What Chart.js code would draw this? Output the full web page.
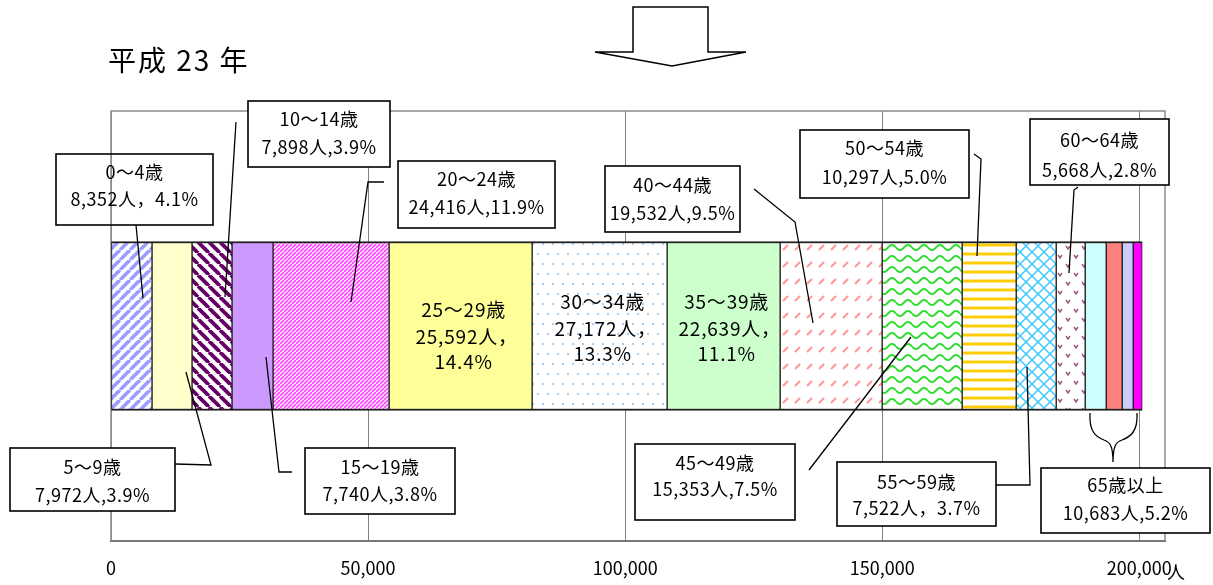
<!DOCTYPE html>
<html lang="ja">
<head>
  <meta charset="UTF-8">
  <title>平成23年 年齢別人口</title>
  <script src="https://cdn.jsdelivr.net/npm/chart.js"></script>
  <style>
    body {
      margin: 0;
      padding: 0;
      background: #fff;
    }
    #ageChart {
      display: block;
    }
  </style>
</head>
<body>
  <canvas id="ageChart" width="1213" height="585"></canvas>

  <script>
    // Segments of the single stacked bar (65+ is split in four thin parts)
    const segmentNames = ['0～4歳', '5～9歳', '10～14歳', '15～19歳', '20～24歳', '25～29歳', '30～34歳',
      '35～39歳', '40～44歳', '45～49歳', '50～54歳', '55～59歳', '60～64歳',
      '65～69歳', '70～74歳', '75～79歳', '80歳以上'];
    const segmentValues = [7980, 7780, 7780, 7980, 22570, 27820, 26260,
      21980, 19840, 15560, 10510, 7780, 5640,
      4090, 3110, 2140, 1750];

    // Label texts as printed on the chart
    const calloutTitles = ['0～4歳', '5～9歳', '10～14歳', '15～19歳', '20～24歳', '40～44歳',
      '45～49歳', '50～54歳', '55～59歳', '60～64歳', '65歳以上'];
    const calloutCounts = ['8,352人，4.1%', '7,972人,3.9%', '7,898人,3.9%', '7,740人,3.8%',
      '24,416人,11.9%', '19,532人,9.5%', '15,353人,7.5%', '10,297人,5.0%',
      '7,522人，3.7%', '5,668人,2.8%', '10,683人,5.2%'];
    const inBarIndex = [5, 6, 7];
    const inBarTitles = ['25～29歳', '30～34歳', '35～39歳'];
    const inBarCounts = ['25,592人，', '27,172人，', '22,639人，'];
    const inBarShares = ['14.4%', '13.3%', '11.1%'];

    const axisTicks = [0, 50000, 100000, 150000, 200000];
    const axisMax = 205000;
    const titleText = '平成 23 年';
    const unitText = '人';

    const FONT = '"Noto Sans CJK JP", "Noto Sans", sans-serif';

    // ---- fill patterns ----
    function makeTile(w, h, draw) {
      const c = document.createElement('canvas');
      c.width = w;
      c.height = h;
      const g = c.getContext('2d');
      g.fillStyle = '#fff';
      g.fillRect(0, 0, w, h);
      draw(g, w, h);
      return g.createPattern(c, 'repeat');
    }

    function diag(color, p, lw, dir) {
      return makeTile(p, p, g => {
        g.strokeStyle = color;
        g.lineWidth = lw;
        for (const o of [-p, 0, p]) {
          g.beginPath();
          if (dir > 0) { g.moveTo(o, p); g.lineTo(o + p, 0); }
          else { g.moveTo(o, 0); g.lineTo(o + p, p); }
          g.stroke();
        }
      });
    }

    const dots = makeTile(10, 20, g => {
      g.fillStyle = '#9fcfff';
      g.fillRect(2, 3, 2, 2);
      g.fillRect(7, 13, 2, 2);
    });
    const dashes = makeTile(12, 17, g => {
      g.strokeStyle = '#ff9999';
      g.lineWidth = 2.2;
      g.beginPath(); g.moveTo(3, 12); g.lineTo(8, 7); g.stroke();
    });
    const waves = makeTile(16, 11, g => {
      g.strokeStyle = '#2fdc2f';
      g.lineWidth = 2;
      g.beginPath();
      for (let i = 0; i <= 16; i++) {
        const yy = 5.5 + 2.6 * Math.sin(i / 16 * Math.PI * 2);
        i === 0 ? g.moveTo(i, yy) : g.lineTo(i, yy);
      }
      g.stroke();
    });
    const hlines = makeTile(4, 9, g => {
      g.fillStyle = '#ffe88a';
      g.fillRect(0, 0, 4, 4);
      g.fillStyle = '#ffcc00';
      g.fillRect(0, 1, 4, 2);
    });
    const cross = makeTile(12, 12, g => {
      g.strokeStyle = '#3cc8ff';
      g.lineWidth = 1.5;
      for (const o of [-12, 0, 12]) {
        g.beginPath(); g.moveTo(o, 12); g.lineTo(o + 12, 0); g.stroke();
        g.beginPath(); g.moveTo(o, 0); g.lineTo(o + 12, 12); g.stroke();
      }
    });
    const vmarks = makeTile(16, 18, g => {
      g.strokeStyle = '#a05080';
      g.lineWidth = 1.4;
      g.beginPath(); g.moveTo(2, 3); g.lineTo(4, 6); g.lineTo(6, 3); g.stroke();
      g.beginPath(); g.moveTo(10, 12); g.lineTo(12, 15); g.lineTo(14, 12); g.stroke();
    });

    const fills = [
      diag('#9c9cff', 10, 3.6, 1), '#ffffcc', diag('#660066', 11, 3.8, -1), '#cc99ff',
      diag('#ff44ff', 4, 1.7, 1), '#ffff99', dots, '#ccffcc', dashes, waves, hlines,
      cross, vmarks, '#ccffff', '#ff8080', '#ccccff', '#ff00ff'
    ];

    // ---- callout layout (boxes, text rows, leader lines) ----
    const calloutLayout = [
      { box: [56, 154, 213, 225], rows: [172, 199], lead: [[136, 225], [143, 298]], clear: true },
      { box: [10, 448, 175, 511], rows: [467, 495], lead: [[175, 464], [211, 465], [186, 372]] },
      { box: [248, 101, 390, 167], rows: [119, 147], lead: [[236, 122], [225, 297]] },
      { box: [305, 448, 455, 514], rows: [467, 494], lead: [[292, 472], [279, 472], [266, 357]] },
      { box: [398, 161, 555, 228], rows: [179, 207], lead: [[384, 182], [368, 182], [351, 302]] },
      { box: [605, 166, 740, 232], rows: [185, 213], lead: [[754, 189], [795, 222], [813, 323]] },
      { box: [635, 444, 795, 520], rows: [463, 489], lead: [[809, 470], [911, 337]] },
      { box: [800, 130, 969, 198], rows: [148, 177], lead: [[974, 154], [981, 159], [977, 256]] },
      { box: [837, 462, 996, 526], rows: [482, 508], lead: [[996, 485], [1030, 485], [1027, 367]] },
      { box: [1030, 119, 1169, 185], rows: [140, 170], lead: [[1078, 187], [1074, 190], [1069, 273]] },
      { box: [1041, 468, 1210, 533], rows: [485, 513], lead: [] }
    ];

    function poly(ctx, pts) {
      if (pts.length < 2) return;
      ctx.beginPath();
      ctx.moveTo(pts[0][0], pts[0][1]);
      pts.slice(1).forEach(p => ctx.lineTo(p[0], p[1]));
      ctx.stroke();
    }

    const frame = {
      id: 'frame',
      beforeDatasetsDraw(chart) {
        const { ctx, chartArea: a } = chart;
        ctx.save();
        ctx.strokeStyle = '#8c8c8c';
        ctx.lineWidth = 1.5;
        ctx.strokeRect(a.left, a.top, a.right - a.left, a.bottom - a.top);
        ctx.restore();
      }
    };

    const annotate = {
      id: 'annotate',
      afterDraw(chart) {
        const ctx = chart.ctx;
        const xs = chart.scales.x;
        ctx.save();
        ctx.fillStyle = '#000';
        ctx.textAlign = 'left';
        ctx.textBaseline = 'middle';

        // title
        ctx.font = '28px ' + FONT;
        ctx.letterSpacing = '2px';
        ctx.fillText(titleText, 108, 60);

        // down arrow
        ctx.strokeStyle = '#000';
        ctx.lineWidth = 1.5;
        ctx.fillStyle = '#fff';
        ctx.beginPath();
        [[633, 7], [708, 7], [708, 52], [746, 52], [672, 66], [595, 52], [633, 52]].forEach((p, i) => {
          i ? ctx.lineTo(p[0], p[1]) : ctx.moveTo(p[0], p[1]);
        });
        ctx.closePath();
        ctx.fill();
        ctx.stroke();

        // callouts
        calloutLayout.forEach((c, i) => {
          const [l, t, r, b] = c.box;
          ctx.lineWidth = 1.3;
          ctx.strokeStyle = '#000';
          poly(ctx, c.lead);
          if (!c.clear) {
            ctx.fillStyle = '#fff';
            ctx.fillRect(l, t, r - l, b - t);
          }
          ctx.lineWidth = 1.6;
          ctx.strokeRect(l, t, r - l, b - t);
          ctx.fillStyle = '#000';
          ctx.textAlign = 'center';
          ctx.font = '18px ' + FONT;
          ctx.letterSpacing = '0.5px';
          ctx.fillText(calloutTitles[i], (l + r) / 2, c.rows[0]);
          ctx.fillText(calloutCounts[i], (l + r) / 2, c.rows[1]);
        });

        // brace for 65+
        ctx.lineWidth = 1.3;
        ctx.beginPath();
        ctx.moveTo(1090, 413);
        ctx.bezierCurveTo(1089, 432, 1096, 437, 1104, 440);
        ctx.bezierCurveTo(1110, 442, 1113, 446, 1113, 462);
        ctx.moveTo(1137, 413);
        ctx.bezierCurveTo(1138, 432, 1130, 437, 1122, 440);
        ctx.bezierCurveTo(1116, 442, 1113, 446, 1113, 462);
        ctx.stroke();

        // labels inside the wide segments
        ctx.font = '19px ' + FONT;
        ctx.letterSpacing = '0.8px';
        inBarIndex.forEach((idx, k) => {
          const start = segmentValues.slice(0, idx).reduce((s, v) => s + v, 0);
          const cx = xs.getPixelForValue(start + segmentValues[idx] / 2) + 3;
          const y0 = k === 0 ? 310 : 302;
          ctx.fillText(inBarTitles[k], cx, y0);
          ctx.fillText(inBarCounts[k], cx + 3, y0 + 27);
          ctx.fillText(inBarShares[k], cx, y0 + 52);
        });

        // unit
        ctx.font = '18px ' + FONT;
        ctx.letterSpacing = '0px';
        ctx.fillText(unitText, 1176, 572);
        ctx.restore();
      }
    };

    const datasets = segmentNames.map((name, i) => ({
      label: name,
      data: [segmentValues[i]],
      backgroundColor: fills[i],
      borderColor: '#1e1e1e',
      borderWidth: { top: 2, bottom: 2, left: 1, right: 1 },
      borderSkipped: false,
      barThickness: 169
    }));

    const ctx = document.getElementById('ageChart').getContext('2d');
    new Chart(ctx, {
      type: 'bar',
      data: { labels: ['人口'], datasets: datasets },
      options: {
        indexAxis: 'y',
        responsive: false,
        animation: false,
        layout: { padding: { left: 111, right: 48, top: 111, bottom: 0 } },
        plugins: {
          legend: { display: false },
          tooltip: { enabled: false }
        },
        scales: {
          x: {
            type: 'linear',
            stacked: true,
            min: 0,
            max: axisMax,
            afterBuildTicks: s => { s.ticks = axisTicks.map(v => ({ value: v })); },
            afterFit: s => { s.height = 44; },
            ticks: {
              color: '#000',
              padding: 16,
              font: { family: FONT, size: 18 },
              callback: v => v.toLocaleString('en-US')
            },
            grid: { color: '#808080', lineWidth: 1, drawTicks: false },
            border: { display: true, color: '#3c3c3c', width: 2 }
          },
          y: {
            stacked: true,
            display: false
          }
        }
      },
      plugins: [frame, annotate]
    });
  </script>
</body>
</html>
